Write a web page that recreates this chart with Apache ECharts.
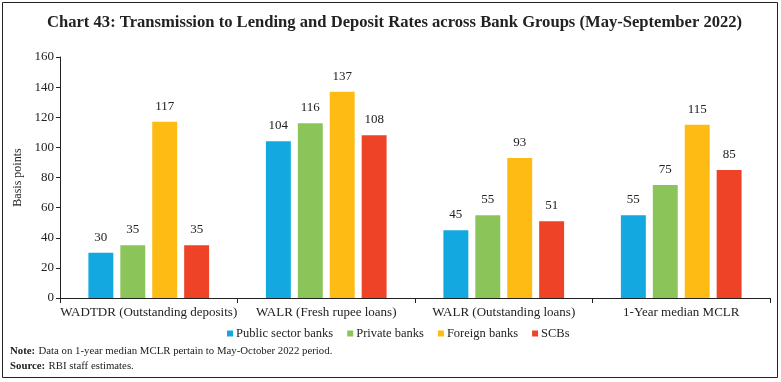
<!DOCTYPE html>
<html><head><meta charset="utf-8">
<script src="https://cdn.jsdelivr.net/npm/echarts@6/dist/echarts.min.js"></script>
<style>html,body{margin:0;padding:0;background:#fff}#c{width:781px;height:382px}</style>
</head><body><div id="c"></div>
<script>
const categories = ['WADTDR (Outstanding deposits)', 'WALR (Fresh rupee loans)', 'WALR (Outstanding loans)', '1-Year median MCLR'];
const seriesNames = ['Public sector banks', 'Private banks', 'Foreign banks', 'SCBs'];
const publicSector = [30, 104, 45, 55];
const privateBanks = [35, 116, 55, 75];
const foreignBanks = [117, 137, 93, 115];
const scbs = [35, 108, 51, 85];
const colors = ['#13A9E0', '#8BC55A', '#FDBB13', '#EE4327'];
const values = [publicSector, privateBanks, foreignBanks, scbs];
const FONT = 'Liberation Serif';

const chart = echarts.init(document.getElementById('c'), null, {renderer: 'canvas'});
chart.setOption({
  animation: false,
  textStyle: {fontFamily: FONT},
  title: {
    text: 'Chart 43: Transmission to Lending and Deposit Rates across Bank Groups (May-September 2022)',
    left: 42, top: 9,
    textStyle: {fontFamily: FONT, fontSize: 16.6, fontWeight: 'bold', color: '#222'}
  },
  legend: {
    top: 322, left: 222,
    itemWidth: 6, itemHeight: 6, itemGap: 14, icon: 'rect',
    textStyle: {fontFamily: FONT, fontSize: 12.5, color: '#222', padding: [0, 0, 0, -2]},
    data: seriesNames
  },
  grid: {left: 60, right: 11, top: 57, bottom: 84, containLabel: false},
  xAxis: {
    type: 'category', data: categories,
    axisLine: {lineStyle: {color: '#222', width: 1}},
    axisTick: {show: true, alignWithLabel: false, length: 5, lineStyle: {color: '#222'}},
    axisLabel: {interval: 0, fontFamily: FONT, fontSize: 13, color: '#222', margin: 8}
  },
  yAxis: {
    type: 'value', min: 0, max: 160, interval: 20,
    name: 'Basis points', nameLocation: 'middle', nameGap: 36, nameRotate: 90,
    nameTextStyle: {fontFamily: FONT, fontSize: 12, color: '#222'},
    axisLine: {show: true, lineStyle: {color: '#222'}},
    axisTick: {show: true, length: 4, lineStyle: {color: '#222'}},
    axisLabel: {fontFamily: FONT, fontSize: 13, color: '#222', margin: 6},
    splitLine: {show: false}
  },
  series: values.map((v, i) => ({
    name: seriesNames[i], type: 'bar', data: v,
    barGap: '28%', barCategoryGap: '32%',
    itemStyle: {color: colors[i]},
    label: {show: true, position: 'top', distance: 9, fontFamily: FONT, fontSize: 13, color: '#222'}
  })),
  graphic: [
    {type: 'rect', shape: {x: 2.5, y: 2.5, width: 775, height: 375}, style: {fill: 'none', stroke: '#222', lineWidth: 1}, silent: true},
    {type: 'text', left: 10, top: 345, style: {rich: {b: {fontWeight: 'bold', fontFamily: FONT, fontSize: 10.8, fill: '#222'}, n: {fontFamily: FONT, fontSize: 10.8, fill: '#222'}}, text: '{b|Note:} {n|Data on 1-year median MCLR pertain to May-October 2022 period.}'}},
    {type: 'text', left: 10, top: 360, style: {rich: {b: {fontWeight: 'bold', fontFamily: FONT, fontSize: 10.8, fill: '#222'}, n: {fontFamily: FONT, fontSize: 10.8, fill: '#222'}}, text: '{b|Source:} {n|RBI staff estimates.}'}}
  ]
});
</script></body></html>
